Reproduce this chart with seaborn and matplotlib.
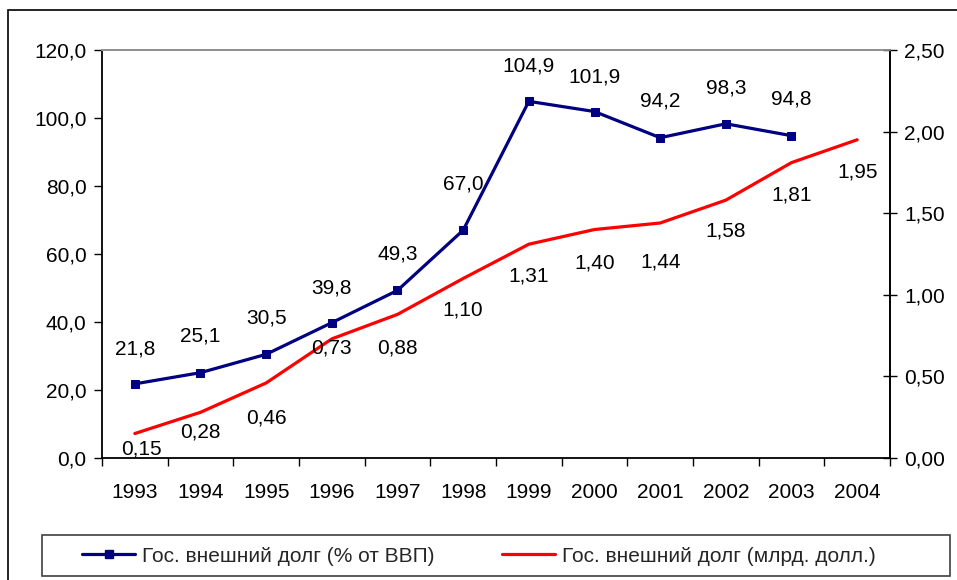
import matplotlib
matplotlib.use("Agg")
import matplotlib.pyplot as plt
import seaborn as sns
import pandas as pd
import numpy as np
from matplotlib.patches import Rectangle
from matplotlib.lines import Line2D

years = ["1993", "1994", "1995", "1996", "1997", "1998", "1999", "2000",
         "2001", "2002", "2003", "2004"]
debt_pct_gdp = [21.8, 25.1, 30.5, 39.8, 49.3, 67.0, 104.9, 101.9, 94.2, 98.3, 94.8]
debt_bln_usd = [0.15, 0.28, 0.46, 0.73, 0.88, 1.10, 1.31, 1.40, 1.44, 1.58, 1.81, 1.95]
label_pct = "Гос. внешний долг (% от ВВП)"
label_usd = "Гос. внешний долг (млрд. долл.)"

# label offsets in pixels (style)
pct_off = [(0, 35), (0, 37), (0, 36), (0, 35), (0, 36), (0, 46), (0, 35), (0, 35), (0, 37), (0, 36), (0, 37)]
usd_off = [(7, -15), (0, -20), (0, -35), (0, -9), (0, -34), (0, -32), (0, -32), (0, -33), (0, -39), (0, -31), (0, -32), (0, -32)]

sns.set_theme(style="white")
plt.rcParams['font.family'] = ['Liberation Sans', 'DejaVu Sans']

FS = 15

df_pct = pd.DataFrame({"x": np.arange(len(debt_pct_gdp)), "v": debt_pct_gdp})
df_usd = pd.DataFrame({"x": np.arange(len(debt_bln_usd)), "v": debt_bln_usd})

fig = plt.figure(figsize=(9.57, 5.80), dpi=100)
ax = fig.add_axes([102/957, 1-458/580, (890-102)/957, (458-50)/580])
ax2 = ax.twinx()

NAVY = "#000080"
RED = "#FF0000"

sns.lineplot(data=df_pct, x="x", y="v", ax=ax, color=NAVY, linewidth=2.3,
             marker="s", markersize=5.5, markeredgecolor=NAVY, markerfacecolor=NAVY)
sns.lineplot(data=df_usd, x="x", y="v", ax=ax2, color=RED, linewidth=2.3)

ax.set_ylim(0, 120)
ax2.set_ylim(0, 2.5)
ax.set_xlim(-0.5, len(years) - 0.5)
ax.set_yticks(np.arange(0, 121, 20))
ax.set_yticklabels([f"{v:.1f}".replace(".", ",") for v in np.arange(0, 121, 20)])
ax2.set_yticks(np.arange(0, 2.51, 0.5))
ax2.set_yticklabels([f"{v:.2f}".replace(".", ",") for v in np.arange(0, 2.51, 0.5)])

ax.set_xticks(np.arange(-0.5, len(years), 1.0))
ax.set_xticklabels([])
ax.set_xticks(np.arange(len(years)), minor=True)
ax.set_xticklabels(years, minor=True)
ax.tick_params(axis="x", which="major", direction="out", length=6, width=1, color="black", bottom=True)
ax.tick_params(axis="x", which="minor", length=0, pad=18, labelsize=FS, colors="black")
ax.tick_params(axis="y", direction="out", length=6, width=1, color="black", left=True, labelsize=FS, pad=5, labelcolor="black")
ax2.tick_params(axis="y", direction="inout", length=10, width=1, color="black", right=True, labelsize=FS, pad=5, labelcolor="black")

for a in (ax, ax2):
    a.set_xlabel("")
    a.set_ylabel("")
    a.grid(False)
ax.spines["top"].set_color("#909090")
ax2.spines["top"].set_color("#909090")
for s in ("left", "bottom"):
    ax.spines[s].set_color("black")
    ax.spines[s].set_linewidth(1.3)
ax2.spines["right"].set_color("black")
ax2.spines["right"].set_linewidth(1.3)
ax2.spines["left"].set_visible(False)
ax2.spines["bottom"].set_visible(False)

for i, v in enumerate(debt_pct_gdp):
    ax.annotate(f"{v:.1f}".replace(".", ","), (i, v), xytext=pct_off[i],
                textcoords="offset pixels", ha="center", va="center", fontsize=FS, color="black")
for i, v in enumerate(debt_bln_usd):
    ax2.annotate(f"{v:.2f}".replace(".", ","), (i, v), xytext=usd_off[i],
                 textcoords="offset pixels", ha="center", va="center", fontsize=FS, color="black")

# legend box
fig.patches.append(Rectangle((42/957, 1-576/580), (950-42)/957, 41/580, transform=fig.transFigure,
                             fill=False, edgecolor="#404040", linewidth=1.2))
ly = 1 - 556/580
h1 = Line2D([], [], color=NAVY, linewidth=2.3, marker="s", markersize=5.5)
h2 = Line2D([], [], color=RED, linewidth=2.3)
for h, lab, x0 in ((h1, label_pct, 82), (h2, label_usd, 502)):
    fig.legend([h], [lab], loc="center left", bbox_to_anchor=(x0/957, ly), fontsize=FS,
               frameon=False, handlelength=2.55, handletextpad=0.34, borderaxespad=0, borderpad=0)

fig.patches.append(Rectangle((8/957, -0.1), 1.2, 1 - 10/580 + 0.1, transform=fig.transFigure,
                             fill=False, edgecolor="black", linewidth=1.2))

fig.savefig("out.png", dpi=100)
